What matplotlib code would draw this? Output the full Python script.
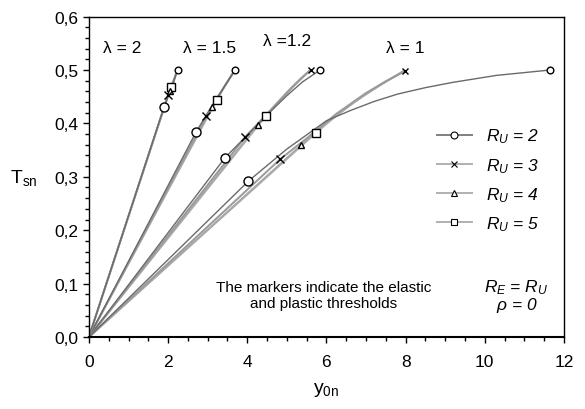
import matplotlib.pyplot as plt
from matplotlib.lines import Line2D
from matplotlib.ticker import MultipleLocator, FuncFormatter

plt.rcParams['font.family'] = ['Liberation Sans', 'DejaVu Sans']
plt.rcParams['mathtext.fontset'] = 'custom'
plt.rcParams['mathtext.rm'] = 'Liberation Sans'
plt.rcParams['mathtext.it'] = 'Liberation Sans:italic'

# curves y0n / Tsn, one list per R_U = 2, 3, 4, 5
# point [1] = elastic threshold, last point = plastic threshold
lam2_y = [[0, 1.895, 2.08, 2.24],
          [0, 2.00, 2.12, 2.23],
          [0, 2.04, 2.14, 2.23],
          [0, 2.07, 2.15, 2.23]]
lam2_T = [[0, 0.430, 0.466, 0.5],
          [0, 0.453, 0.475, 0.499],
          [0, 0.461, 0.479, 0.499],
          [0, 0.469, 0.483, 0.499]]

lam15_y = [[0, 2.70, 3.0, 3.3, 3.69],
           [0, 2.97, 3.3, 3.68],
           [0, 3.12, 3.4, 3.68],
           [0, 3.23, 3.45, 3.68]]
lam15_T = [[0, 0.383, 0.42, 0.455, 0.5],
           [0, 0.414, 0.455, 0.499],
           [0, 0.431, 0.466, 0.499],
           [0, 0.444, 0.472, 0.499]]

lam12_y = [[0, 3.44, 4.0, 4.5, 5.0, 5.4, 5.84],
           [0, 3.94, 4.5, 5.0, 5.35, 5.60],
           [0, 4.26, 4.7, 5.1, 5.58],
           [0, 4.47, 4.85, 5.2, 5.57]]
lam12_T = [[0, 0.336, 0.378, 0.416, 0.452, 0.478, 0.5],
           [0, 0.374, 0.418, 0.458, 0.484, 0.5],
           [0, 0.397, 0.433, 0.465, 0.499],
           [0, 0.414, 0.444, 0.472, 0.499]]

lam1_y = [[0, 4.03, 5.0, 6.0, 6.6, 7.2, 7.8, 8.5, 9.2, 10.3, 11.65],
          [0, 4.83, 5.5, 6.25, 7.0, 7.5, 7.99],
          [0, 5.37, 6.0, 6.7, 7.4, 7.95],
          [0, 5.73, 6.3, 7.0, 7.5, 7.95]]
lam1_T = [[0, 0.292, 0.352, 0.405, 0.424, 0.441, 0.455, 0.467, 0.477, 0.490, 0.5],
          [0, 0.333, 0.372, 0.418, 0.457, 0.479, 0.498],
          [0, 0.360, 0.400, 0.440, 0.474, 0.498],
          [0, 0.382, 0.418, 0.455, 0.478, 0.498]]

# how many R_U curves get a marker at the plastic end
end_marked = [1, 1, 2, 2]

lam_labels = ['λ = 2', 'λ = 1.5', 'λ =1.2', 'λ = 1']
lam_label_pos = [(0.83, 0.542), (3.06, 0.542), (5.0, 0.556), (7.98, 0.542)]
RU = [2, 3, 4, 5]

markers = ['o', 'x', '^', 's']
mid_size = [6.5, 6, 5, 5.5]
end_size = [4.8, 4.5, 4, 4]
line_col = ['#6a6a6a', '#9a9a9a', '#a8a8a8', '#b4b4b4']
line_w = [1.0, 1.4, 1.4, 1.4]

fig = plt.figure(figsize=(5.85, 4.1), dpi=100)
ax = fig.add_axes([0.152, 0.1756, 0.812, 0.7814])

families = [(lam2_y, lam2_T), (lam15_y, lam15_T), (lam12_y, lam12_T), (lam1_y, lam1_T)]
for k, (ys, Ts) in enumerate(families):
    # lighter curves first, R_U = 2 on top
    for i in range(3, -1, -1):
        ax.plot(ys[i], Ts[i], color=line_col[i], lw=line_w[i], zorder=2)
    for i in range(3, -1, -1):
        ax.plot(ys[i][1], Ts[i][1], marker=markers[i], ms=mid_size[i], mfc='white',
                mec='black', mew=1.0, ls='none', zorder=4)
    for i in range(end_marked[k]):
        ax.plot(ys[i][-1], Ts[i][-1], marker=markers[i], ms=end_size[i], mfc='white',
                mec='black', mew=1.0, ls='none', zorder=4)
    ax.text(lam_label_pos[k][0], lam_label_pos[k][1], lam_labels[k], fontsize=12.5,
            ha='center', va='center')

ax.set_xlim(0, 12)
ax.set_ylim(0, 0.6)
ax.xaxis.set_major_locator(MultipleLocator(2))
ax.xaxis.set_minor_locator(MultipleLocator(0.5))
ax.yaxis.set_major_locator(MultipleLocator(0.1))
ax.yaxis.set_minor_locator(MultipleLocator(0.02))
ax.yaxis.set_major_formatter(FuncFormatter(lambda v, p: f'{v:.1f}'.replace('.', ',')))
ax.tick_params(which='major', direction='out', length=4, width=1, labelsize=12.5)
ax.tick_params(which='minor', direction='out', length=3, width=1)
ax.tick_params(axis='x', pad=8)
for s in ax.spines.values():
    s.set_linewidth(1)
ax.spines['bottom'].set_linewidth(1.5)

ax.set_xlabel(r'y$_{\mathrm{0n}}$', fontsize=14, labelpad=8)
ax.set_ylabel(r'T$_{\mathrm{sn}}$', fontsize=14, rotation=0, labelpad=22, va='center')

leg_col = ['#808080', '#b0b0b0', '#b0b0b0', '#b0b0b0']
leg_size = [5, 4.5, 4, 5]
handles = [Line2D([], [], color=leg_col[i], lw=1.4, marker=markers[i], ms=leg_size[i],
                  mfc='white', mec='black', mew=0.8) for i in range(4)]
labels = [f'$R_U$ = {r}' for r in RU]
leg = ax.legend(handles, labels, loc='upper left', bbox_to_anchor=(0.7, 0.705),
                frameon=False, handlelength=2.0, handletextpad=0.8,
                labelspacing=0.6, prop={'style': 'italic', 'size': 12.5})

ax.text(10.8, 0.095, '$R_E$ = $R_U$', fontsize=12.5, style='italic', ha='center', va='center')
ax.text(10.8, 0.060, r'$\rho$ = 0', fontsize=12.5, style='italic', ha='center', va='center')
ax.text(5.92, 0.079, 'The markers indicate the elastic\nand plastic thresholds',
        fontsize=11, ha='center', va='center', linespacing=1.2)

fig.savefig('out.png', dpi=100)
